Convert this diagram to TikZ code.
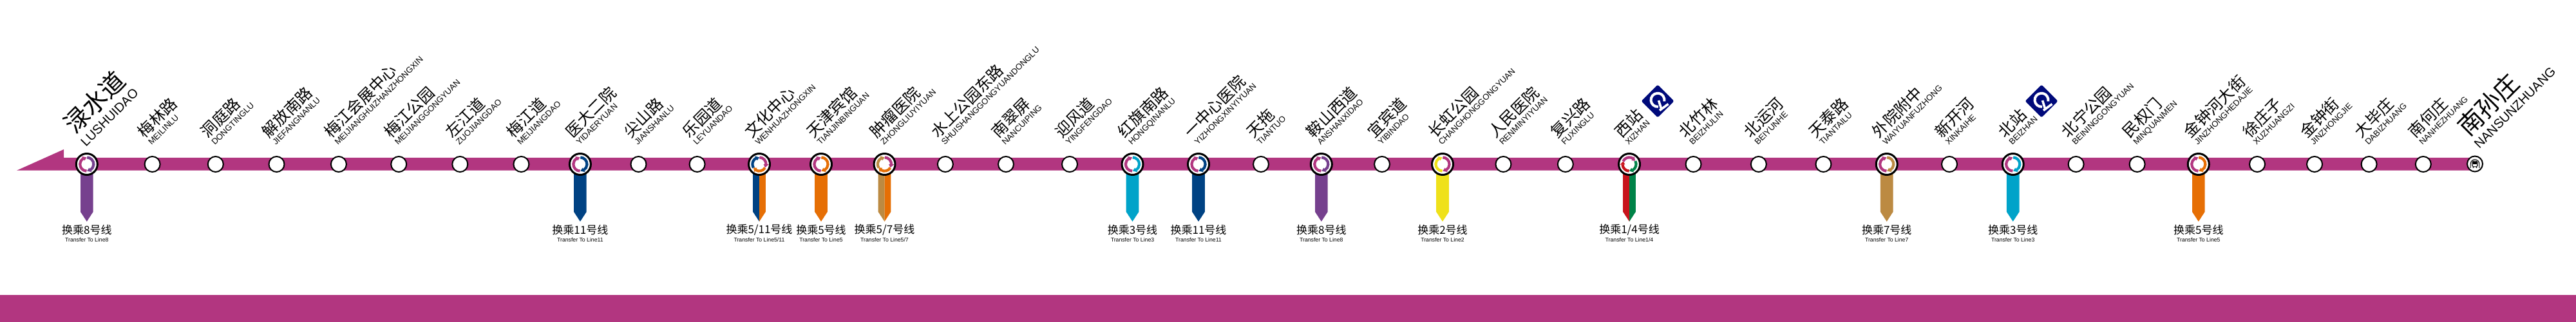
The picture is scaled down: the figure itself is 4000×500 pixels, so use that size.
\documentclass[tikz,border=0pt]{standalone}
\usepackage{fontspec}
\setmainfont{Liberation Sans}
\newfontfamily\cjk{Noto Sans CJK SC}
\usetikzlibrary{calc,backgrounds}
\definecolor{lineM}{HTML}{B23680}
\definecolor{lineB}{HTML}{004283}
\definecolor{lineO}{HTML}{E66F05}
\definecolor{lineT}{HTML}{BC8A42}
\definecolor{lineC}{HTML}{00A3C9}
\definecolor{lineP}{HTML}{76408E}
\definecolor{lineY}{HTML}{EFE11A}
\definecolor{lineR}{HTML}{C8141C}
\definecolor{lineG}{HTML}{008348}
\definecolor{logoN}{HTML}{000A7A}
\tikzset{
  plainstn/.style={circle,draw=black,fill=white,line width=2pt,minimum size=24pt,inner sep=0pt},
  hubstn/.style={circle,draw=black,fill=white,line width=3pt,minimum size=33pt,inner sep=0pt},
  termstn/.style={circle,draw=black,fill=white,line width=2pt,minimum size=24pt,inner sep=0pt},
  cnname/.style={font=\cjk\fontsize{24.5}{25}\selectfont,rotate=45,anchor=base west,inner sep=0pt},
  enname/.style={font=\fontsize{13}{14}\selectfont,rotate=45,anchor=base west,inner sep=0pt},
  cnbig/.style={font=\cjk\fontsize{38.5}{39}\selectfont,rotate=45,anchor=base west,inner sep=0pt},
  enbig/.style={font=\fontsize{20}{21}\selectfont,rotate=45,anchor=base west,inner sep=0pt},
  xfercn/.style={font=\cjk\fontsize{17}{18}\selectfont,inner sep=0pt,anchor=center},
  xferen/.style={font=\fontsize{8.7}{9}\selectfont,inner sep=0pt,anchor=center}
}
% half-width of a transfer tail 9.8, body 74, point 15
\newcommand{\tailone}[2]{\fill[#2] (#1.center) ++(-9.8,0) -- ++(0,-74) -- ++(9.8,-15) -- ++(9.8,15) -- ++(0,74) -- cycle;}
\newcommand{\tailtwo}[3]{%
  \fill[#2] (#1.center) -- ++(-9.8,0) -- ++(0,-74) -- ++(9.8,-15) -- cycle;
  \fill[#3] (#1.center) -- ++(9.8,0) -- ++(0,-74) -- ++(-9.8,-15) -- cycle;}
\newcommand{\xfer}[2]{%
  \node[xfercn] (#1cn) at ($(#1.center)+(0,-101.7)$) {换乘#2号线};
  \node[xferen] (#1en) at ($(#1.center)+(0,-117)$) {Transfer To Line#2};}
\newcommand{\arcarrow}[4]{% colour, start, end, tip
  \draw[#1,line width=4.2pt] (#2:10.6) arc (#2:#3:10.6);
  \fill[#1] (#3+1:6.6) -- (#3+1:14.6) -- (#4:10.6) -- cycle;}
\newcommand{\ringtwo}[3]{\begin{scope}[shift={(#1.center)}]
  \arcarrow{#2}{268}{122}{92}\arcarrow{#3}{88}{-58}{-88}\end{scope}}
\newcommand{\ringthree}[4]{\begin{scope}[shift={(#1.center)}]
  \arcarrow{#2}{212}{118}{90}\arcarrow{#3}{88}{-2}{-30}\arcarrow{#4}{-32}{-122}{-150}\end{scope}}
\newcommand{\raillogo}[1]{\begin{scope}[shift={(#1)}]
  \fill[logoN,rounded corners=2.5pt] (25.5,0) -- (0,25.5) -- (-25.5,0) -- (0,-25.5) -- cycle;
  \draw[white,line width=4pt] (0,1.7) ++(-85:10.5) arc (-85:-372:10.5);
  \draw[white,line width=3.6pt] (1.5,1) -- (6,-13);
  \draw[white,line width=3.6pt] (3,-14.5) -- (16.5,-4.5);
\end{scope}}
\begin{document}
\begin{tikzpicture}[x=1pt,y=1pt]
\useasboundingbox (0,0) rectangle (4000,500);
\fill[lineM] (0,0) rectangle (4000,42);
\coordinate (tip) at (26,235.3);
\coordinate (wingtop) at (99,268);
\coordinate (wingin) at (99,255);
% terminal stations
\node[hubstn] (s1) at (134.8,245) {};
\node[cnbig] (s1c) at (116,290) {渌水道};
\node[enbig] (s1e) at (133.5,271.5) {LUSHUIDAO};
\node[termstn] (s40) at (3843,245.5) {};
\node[cnbig] (s40c) at (3833,286) {南孙庄};
\node[enbig] (s40e) at (3850,268) {NANSUNZHUANG};
% plain stations
\foreach \n/\x/\cn/\en in {
 2/236.6/梅林路/MEILINLU,3/334.8/洞庭路/DONGTINGLU,4/429.5/解放南路/JIEFANGNANLU,
 5/525.9/梅江会展中心/MEIJIANGHUIZHANZHONGXIN,6/619.2/梅江公园/MEIJIANGGONGYUAN,
 7/714.3/左江道/ZUOJIANGDAO,8/809.4/梅江道/MEIJIANGDAO,10/991.5/尖山路/JIANSHANLU,
 11/1082.6/乐园道/LEYUANDAO,15/1467.9/水上公园东路/SHUISHANGGONGYUANDONGLU,
 16/1562/南翠屏/NANCUIPING,17/1661/迎风道/YINGFENGDAO,20/1958/天拖/TIANTUO,
 22/2146/宜宾道/YIBINDAO,24/2334.4/人民医院/RENMINYIYUAN,25/2430.8/复兴路/FUXINGLU,
 27/2629.5/北竹林/BEIZHULIN,28/2730.8/北运河/BEIYUNHE,29/2831.4/天泰路/TIANTAILU,
 31/3027/新开河/XINKAIHE,33/3223.6/北宁公园/BEININGGONGYUAN,34/3318.6/民权门/MINQUANMEN,
 36/3505/徐庄子/XUZHUANGZI,37/3594/金钟街/JINZHONGJIE,38/3678.6/大毕庄/DABIZHUANG,
 39/3762.8/南何庄/NANHEZHUANG}{
  \node[plainstn] (s\n) at (\x,245) {};
  \node[cnname] (s\n c) at (\x-12,284.8) {\cn};
  \node[enname] (s\n e) at (\x-1,274) {\en};
}
% interchange stations
\foreach \n/\x/\cn/\en in {
 9/900.9/医大二院/YIDAERYUAN,12/1179/文化中心/WENHUAZHONGXIN,13/1275/天津宾馆/TIANJINBINGUAN,
 14/1373.5/肿瘤医院/ZHONGLIUYIYUAN,18/1758.5/红旗南路/HONGQINANLU,19/1861/一中心医院/YIZHONGXINYIYUAN,
 21/2051.8/鞍山西道/ANSHANXIDAO,23/2240/长虹公园/CHANGHONGGONGYUAN,26/2530/西站/XIZHAN,
 30/2929.7/外院附中/WAIYUANFUZHONG,32/3125.7/北站/BEIZHAN,35/3413.8/金钟河大街/JINZHONGHEDAJIE}{
  \node[hubstn] (s\n) at (\x,245) {};
  \node[cnname] (s\n c) at (\x-12,284.8) {\cn};
  \node[enname] (s\n e) at (\x-1,274) {\en};
}
\begin{scope}[on background layer]
  \fill[lineM] (tip) -- (wingtop) -- (wingin) -- (wingin -| s40.center) -- (s40.center |- tip) -- cycle;
  \tailone{s1}{lineP}
  \tailone{s9}{lineB}
  \tailtwo{s12}{lineB}{lineO}
  \tailone{s13}{lineO}
  \tailtwo{s14}{lineT}{lineO}
  \tailone{s18}{lineC}
  \tailone{s19}{lineB}
  \tailone{s21}{lineP}
  \tailone{s23}{lineY}
  \tailtwo{s26}{lineR}{lineG}
  \tailone{s30}{lineT}
  \tailone{s32}{lineC}
  \tailone{s35}{lineO}
\end{scope}
\xfer{s1}{8}
\xfer{s9}{11}
\xfer{s12}{5/11}
\xfer{s13}{5}
\xfer{s14}{5/7}
\xfer{s18}{3}
\xfer{s19}{11}
\xfer{s21}{8}
\xfer{s23}{2}
\xfer{s26}{1/4}
\xfer{s30}{7}
\xfer{s32}{3}
\xfer{s35}{5}
\ringtwo{s1}{lineM}{lineP}
\ringtwo{s9}{lineM}{lineB}
\ringthree{s12}{lineB}{lineM}{lineO}
\ringtwo{s13}{lineM}{lineO}
\ringthree{s14}{lineT}{lineM}{lineO}
\ringtwo{s18}{lineM}{lineC}
\ringtwo{s19}{lineM}{lineB}
\ringtwo{s21}{lineM}{lineP}
\ringtwo{s23}{lineY}{lineM}
\begin{scope}[shift={(s26.center)}]
  \arcarrow{lineM}{155}{58}{30}\arcarrow{lineG}{28}{-62}{-90}\arcarrow{lineR}{-92}{-178}{-205}
\end{scope}
\ringtwo{s30}{lineM}{lineT}
\ringtwo{s32}{lineM}{lineC}
\ringtwo{s35}{lineM}{lineO}
\coordinate (logoA) at (2574,343);
\coordinate (logoB) at (3170,343);
\raillogo{logoA}
\raillogo{logoB}
% terminal icon: tunnel and train
\begin{scope}[shift={(s40.center)},scale=0.8]
  \draw[black,line width=1pt] (-8.5,-8) -- (-8.5,0) arc (180:0:8.5) -- (8.5,-8);
  \draw[black,line width=1.1pt,rounded corners=1.5pt] (-5,-5.5) rectangle (5,5.5);
  \fill[black] (-3.6,-0.5) rectangle (3.6,3.8);
  \fill[black] (-4.5,-8) -- (-3,-8) -- (-1.5,-5.5) -- (-3,-5.5) -- cycle;
  \fill[black] (4.5,-8) -- (3,-8) -- (1.5,-5.5) -- (3,-5.5) -- cycle;
\end{scope}
\end{tikzpicture}
\end{document}
